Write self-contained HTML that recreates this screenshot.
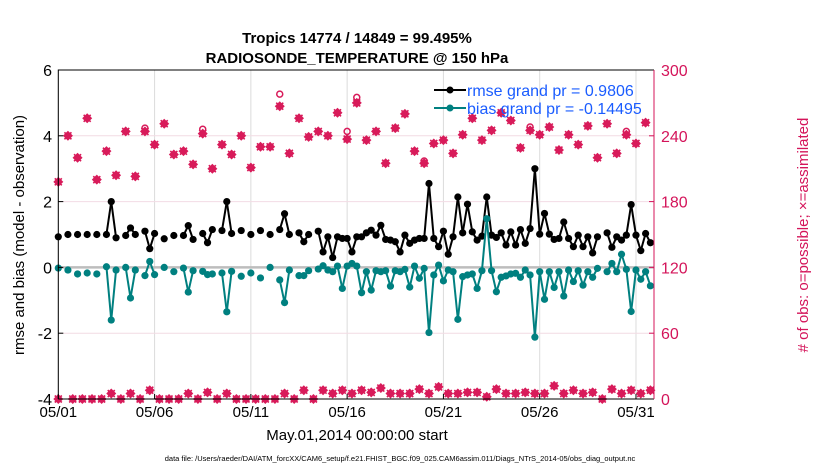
<!DOCTYPE html>
<html><head><meta charset="utf-8"><style>
body{margin:0;background:#fff;}
svg text{font-family:"Liberation Sans",Arial,sans-serif;}
</style></head><body>
<svg id="chart" width="830" height="470" xmlns="http://www.w3.org/2000/svg">
<rect width="830" height="470" fill="#fff"/>
<g id="grid"></g>
<g id="marks"></g>
<g id="axes"></g>
<text x="357" y="43" font-size="15" font-weight="bold" text-anchor="middle">Tropics 14774 / 14849 = 99.495%</text>
<text x="357" y="63" font-size="15" font-weight="bold" text-anchor="middle">RADIOSONDE_TEMPERATURE @ 150 hPa</text>
<text transform="translate(24,235) rotate(-90)" font-size="15" text-anchor="middle">rmse and bias (model - observation)</text>
<text transform="translate(808,235) rotate(-90)" font-size="15" text-anchor="middle" fill="#d4145a"># of obs: o=possible; ×=assimilated</text>
<text x="357" y="440" font-size="15" text-anchor="middle">May.01,2014 00:00:00 start</text>
<text x="400" y="461" font-size="7.5" text-anchor="middle">data file: /Users/raeder/DAI/ATM_forcXX/CAM6_setup/f.e21.FHIST_BGC.f09_025.CAM6assim.011/Diags_NTrS_2014-05/obs_diag_output.nc</text>
<g>
<line x1="434" y1="90" x2="466" y2="90" stroke="#000" stroke-width="2"/><circle cx="450" cy="90" r="3.5" fill="#000"/>
<text x="467" y="96" font-size="16" fill="#1a5cff">rmse grand pr = 0.9806</text>
<line x1="434" y1="108" x2="466" y2="108" stroke="#008080" stroke-width="2"/><circle cx="450" cy="108" r="3.5" fill="#008080"/>
<text x="467" y="114" font-size="16" fill="#1a5cff">bias grand pr = -0.14495</text>
</g>
</svg>
<script>
const rmseIdx=[0,2,4,6,8,10,11,12,14,15,16,18,19,20,22,24,26,27,28,30,31,32,34,35,36,38,40,42,44,46,47,48,50,51,52,54,55,56,57,58,59,60,61,62,63,64,65,66,67,68,69,70,71,72,73,74,75,76,77,78,79,80,81,82,83,84,85,86,87,88,89,90,91,92,93,94,95,96,97,98,99,100,101,102,103,104,105,106,107,108,109,110,111,112,114,115,116,117,118,119,120,121,122,123];
const rmseVal=[0.93,1.0,1.0,1.0,1.0,1.0,2.0,0.9,0.97,1.2,1.0,1.1,0.57,1.03,0.87,0.97,0.97,1.27,0.85,1.03,0.75,1.15,1.12,2.0,1.03,1.12,1.0,1.12,1.0,1.15,1.63,1.0,1.05,0.78,1.0,1.1,0.47,0.93,0.3,0.93,0.88,0.88,0.47,0.93,0.93,1.05,1.13,0.98,1.28,0.85,0.83,0.78,0.47,0.98,0.73,0.83,0.88,0.88,2.55,0.88,0.63,1.1,0.4,0.93,2.14,1.05,1.92,1.08,0.83,0.95,2.14,0.98,0.91,1.05,0.68,1.08,0.68,1.15,0.73,1.18,3.0,1.01,1.64,1.01,0.85,0.88,1.38,0.88,0.63,0.98,0.63,0.93,0.44,0.93,1.05,0.61,0.93,0.83,0.98,1.91,0.98,0.51,1.03,0.75];
const biasVal=[-0.02,-0.08,-0.2,-0.17,-0.2,0.02,-1.6,-0.08,0,-0.93,-0.08,-0.25,0.18,-0.22,0,-0.13,-0.02,-0.75,-0.1,-0.12,-0.22,-0.2,-0.17,-1.35,-0.12,-0.27,-0.17,-0.32,0,-0.38,-1.07,-0.08,-0.25,-0.25,-0.1,-0.05,0.05,-0.08,-0.13,0.04,-0.64,0.04,0.12,0.04,-0.77,-0.13,-0.69,-0.1,-0.13,-0.1,-0.57,-0.1,-0.13,-0.06,-0.6,0.04,-0.33,-0.03,-1.98,-0.23,0.07,-0.41,-0.08,-0.13,-1.58,-0.28,-0.23,-0.2,-0.64,-0.1,1.48,-0.1,-0.74,-0.3,-0.26,-0.2,-0.18,-0.3,-0.08,-0.23,-2.12,-0.13,-0.97,-0.13,-0.61,-0.13,-0.87,-0.08,-0.43,-0.1,-0.54,-0.13,-0.3,-0.03,-0.13,0.12,-0.13,0.4,-0.06,-1.34,-0.08,-0.36,-0.13,-0.56];
const assimIdx=[0,2,4,6,8,10,12,14,16,18,20,22,24,26,28,30,32,34,36,38,40,42,44,46,48,50,52,54,56,58,60,62,64,66,68,70,72,74,76,78,80,82,84,86,88,90,92,94,96,98,100,102,104,106,108,110,112,114,116,118,120,122];
const assimCount=[198,240,220,256,200,226,204,244,203,244,232,251,223,226,214,242,210,232,223,240,211,230,230,267,224,256,239,244,240,261,237,270,236,244,215,247,260,226,215,233,236,224,241,256,236,245,261,254,229,245,241,248,227,241,232,249,220,251,224,241,233,252];
const possIdx=[18,30,46,60,62,76,98,118];
const possCount=[247,246,278,244,275,217,248,244];
const lowIdx=[0,3,5,7,9,11,13,15,17,19,21,23,25,27,29,31,33,35,37,39,41,43,45,47,49,51,53,55,57,59,61,63,65,67,69,71,73,75,77,79,81,83,85,87,89,91,93,95,97,99,101,103,105,107,109,111,113,115,117,119,121,123];
const lowCount=[0,0,0,0,0,5,0,5,0,8,0,0,0,5,0,6,0,5,0,0,0,0,0,5,0,8,0,8,5,8,5,8,6,10,5,5,5,9,5,11,5,5,6,6,2,9,5,5,6,5,5,12,5,8,5,6,0,9,5,8,5,8];
const leftTicks=[-4,-2,0,2,4,6];
const rightTicks=[0,60,120,180,240,300];
const dayTicks=[0,5,10,15,20,25,30];
const dayLabels=["05/01","05/06","05/11","05/16","05/21","05/26","05/31"];

const X0=58.3,X1=654,Y0=70,Y1=399;
const xs=i=>X0+i*(19.256/4);
const dx=d=>X0+d*19.256;
const yl=v=>Y1-(v+4)*(Y1-Y0)/10;
const yr=c=>Y1-c*(Y1-Y0)/300;
const NS="http://www.w3.org/2000/svg";
function mk(tag,attrs,parent){const e=document.createElementNS(NS,tag);for(const k in attrs)e.setAttribute(k,attrs[k]);parent.appendChild(e);return e;}
const grid=document.getElementById('grid'),marks=document.getElementById('marks'),axes=document.getElementById('axes');

dayTicks.forEach((d,i)=>{
 const g=mk('line',{x1:dx(d),x2:dx(d),y1:Y0,y2:Y1,stroke:'#dcdcdc','stroke-width':1},grid);
 
 
 const t=mk('text',{x:dx(d),y:417,'font-size':15,'text-anchor':'middle'},axes);t.textContent=dayLabels[i];
 
 
 mk('line',{x1:dx(d),x2:dx(d),y1:Y1,y2:Y1-5,stroke:'#000'},axes);
});
leftTicks.forEach(v=>{
 if(v!==0&&v!==6&&v!==-4){const g=mk('line',{x1:X0,x2:X1,y1:yl(v),y2:yl(v),stroke:'#f2dce4','stroke-width':1},grid);
 
 }
 const t=mk('text',{x:52,y:yl(v)+6,'font-size':16,'text-anchor':'end'},axes);t.textContent=v;
 
 
 mk('line',{x1:X0,x2:X0+5,y1:yl(v),y2:yl(v),stroke:'#000'},axes);
});
rightTicks.forEach(c=>{
 const t=mk('text',{x:661,y:yr(c)+6,'font-size':16,fill:'#d4145a'},axes);t.textContent=c;
 
 
 mk('line',{x1:X1,x2:X1-5,y1:yr(c),y2:yr(c),stroke:'#d4145a'},axes);
});
const zl=mk('line',{x1:X0,x2:X1,y1:yl(0),y2:yl(0),stroke:'#bdbdbd','stroke-width':2.5},grid);



function series(idx,val,color,name){
 const g=mk('g',{},marks);
 
 
 for(let k=1;k<idx.length;k++){if(idx[k]-idx[k-1]===1)mk('line',{x1:xs(idx[k-1]),y1:yl(val[k-1]),x2:xs(idx[k]),y2:yl(val[k]),stroke:color,'stroke-width':2},g);}
 idx.forEach((i,k)=>{const c=mk('circle',{cx:xs(i),cy:yl(val[k]),r:3.6,fill:color},g);
  
  });
}
const MC='#d81b5a';
function star(x,y,g){
 const s=mk('path',{d:`M${x} ${y-5}L${x+5} ${y}L${x} ${y+5}L${x-5} ${y}Z`,fill:MC},g);
 
 
 mk('path',{d:`M${x-3.5} ${y-3.5}L${x+3.5} ${y+3.5}M${x+3.5} ${y-3.5}L${x-3.5} ${y+3.5}`,stroke:MC,'stroke-width':1.6},g);
}
const ga=mk('g',{},marks);


assimIdx.forEach((i,k)=>star(xs(i),yr(assimCount[k]),ga));
lowIdx.forEach((i,k)=>star(xs(i),yr(lowCount[k]),ga));
possIdx.forEach((i,k)=>{const c=mk('circle',{cx:xs(i),cy:yr(possCount[k]),r:3,fill:'none',stroke:MC,'stroke-width':1.5},ga);
 
 });
series(rmseIdx,rmseVal,'#000','rmse-series');
series(rmseIdx,biasVal,'#008080','bias-series');

mk('path',{d:`M${X0} ${Y1}L${X0} ${Y0}L${X1} ${Y0}M${X0} ${Y1}L${X1} ${Y1}`,stroke:'#000',fill:'none','stroke-width':1},axes);
mk('line',{x1:X1,x2:X1,y1:Y0,y2:Y1,stroke:'#d4145a','stroke-width':1},axes);
</script>
</body></html>
